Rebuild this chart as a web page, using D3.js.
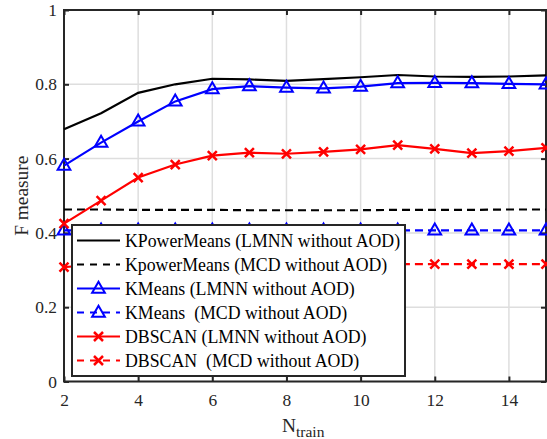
<!DOCTYPE html>
<html><head><meta charset="utf-8">
<script src="https://cdn.jsdelivr.net/npm/d3@7"></script>
<style>body{margin:0;background:#fff}svg{display:block}</style>
</head><body><svg id="c" width="547" height="439"></svg>
<script>
const nTrain = [2,3,4,5,6,7,8,9,10,11,12,13,14,15];
const kpmLMNN = [0.679,0.722,0.777,0.800,0.815,0.813,0.809,0.814,0.819,0.825,0.821,0.820,0.821,0.824];
const kpmMCD  = [0.463,0.463,0.462,0.462,0.462,0.461,0.461,0.461,0.461,0.462,0.462,0.462,0.463,0.463];
const kmLMNN  = [0.581,0.643,0.700,0.754,0.787,0.795,0.791,0.789,0.794,0.803,0.804,0.803,0.801,0.800];
const kmMCD   = [0.407,0.407,0.407,0.407,0.407,0.407,0.407,0.407,0.407,0.407,0.407,0.407,0.407,0.407];
const dbLMNN  = [0.425,0.487,0.549,0.584,0.608,0.616,0.613,0.618,0.625,0.636,0.626,0.615,0.620,0.629];
const dbMCD   = [0.308,0.315,0.315,0.315,0.315,0.315,0.315,0.315,0.315,0.316,0.316,0.316,0.316,0.316];
const xTicks = [2,4,6,8,10,12,14];
const yTicks = [0,0.2,0.4,0.6,0.8,1];
const legendLabels = ["KPowerMeans (LMNN without AOD)","KpowerMeans (MCD without AOD)","KMeans (LMNN without AOD)","KMeans  (MCD without AOD)","DBSCAN (LMNN without AOD)","DBSCAN  (MCD without AOD)"];

const series = [
  {v:kpmLMNN, c:"#000", dash:null, m:null},
  {v:kpmMCD,  c:"#000", dash:"8,5", m:null},
  {v:kmLMNN,  c:"#0000ff", dash:null, m:"tri"},
  {v:kmMCD,   c:"#0000ff", dash:"8,5", m:"tri"},
  {v:dbLMNN,  c:"#ff0000", dash:null, m:"x"},
  {v:dbMCD,   c:"#ff0000", dash:"8,5", m:"x"}
];

const FONT = "Liberation Serif";
const svg = d3.select("#c");
const L=64, R=546, T=10, B=381.5;
const x = d3.scaleLinear().domain([2,15]).range([L,R]);
const y = d3.scaleLinear().domain([0,1]).range([B,T]);
const axC = "#262626";

// grid
const g = svg.append("g");
g.selectAll(".gx").data(xTicks).join("line").attr("x1",d=>x(d)).attr("x2",d=>x(d)).attr("y1",T).attr("y2",B).attr("stroke","#dedede").attr("stroke-width",1.5);
g.selectAll(".gy").data(yTicks).join("line").attr("y1",d=>y(d)).attr("y2",d=>y(d)).attr("x1",L).attr("x2",R).attr("stroke","#dedede").attr("stroke-width",1.5);

// axes with inward ticks
const ax = svg.append("g").attr("color",axC);
function styleAxis(sel){ sel.attr("font-family",FONT).attr("font-size",17.4); sel.selectAll(".domain").remove(); sel.selectAll("line").attr("stroke-width",2); sel.selectAll("text").attr("fill",axC).style("font-family",FONT); }
ax.append("g").attr("transform",`translate(0,${B})`).call(d3.axisBottom(x).tickValues(xTicks).tickSize(-5).tickPadding(12).tickFormat(d3.format("d"))).call(styleAxis);
ax.append("g").attr("transform",`translate(0,${T})`).call(d3.axisTop(x).tickValues(xTicks).tickSize(-5).tickFormat("")).call(styleAxis);
ax.append("g").attr("transform",`translate(0,0)`).call(d3.axisLeft(y).tickValues(yTicks).tickSize(0).tickPadding(0).tickFormat(d=>d===0||d===1?d3.format("d")(d):d3.format(".1f")(d))).call(styleAxis).selectAll("text").attr("x",L-7);
ax.append("g").attr("transform",`translate(${L},0)`).call(d3.axisRight(y).tickValues(yTicks).tickSize(5).tickFormat("")).call(styleAxis);
ax.append("g").attr("transform",`translate(${R},0)`).call(d3.axisLeft(y).tickValues(yTicks).tickSize(5).tickFormat("")).call(styleAxis);
svg.append("rect").attr("x",L).attr("y",T).attr("width",R-L).attr("height",B-T).attr("fill","none").attr("stroke",axC).attr("stroke-width",2);

// lines
const line = d3.line().x((d,i)=>x(nTrain[i])).y(d=>y(d));
const tri = d3.symbol().type(d3.symbolTriangle).size(70);
function drawMarker(sel, m, c){
  if(m==="tri") sel.append("path").attr("d",tri()).attr("fill","none").attr("stroke",c).attr("stroke-width",2).attr("transform","translate(0,0.5)");
  else if(m==="x") sel.append("path").attr("d","M-4.5,-4.5L4.5,4.5M-4.5,4.5L4.5,-4.5").attr("stroke",c).attr("stroke-width",2.5).attr("fill","none");
}
const plot = svg.append("g");
series.forEach(s=>{
  plot.append("path").datum(s.v).attr("d",line).attr("fill","none").attr("stroke",s.c).attr("stroke-width",2.2).attr("stroke-dasharray",s.dash);
  if(s.m){
    s.v.forEach((v,i)=>{ const gm=plot.append("g").attr("transform",`translate(${x(nTrain[i])},${y(v)})`); drawMarker(gm,s.m,s.c); });
  }
});

// legend
const lg = svg.append("g");
lg.append("rect").attr("x",72).attr("y",225).attr("width",333).attr("height",151).attr("fill","#fff").attr("stroke",axC).attr("stroke-width",2);
legendLabels.forEach((t,i)=>{
  const yy = 240.5 + i*24;
  const s = series[i];
  lg.append("line").attr("x1",77).attr("x2",120).attr("y1",yy).attr("y2",yy).attr("stroke",s.c).attr("stroke-width",2.2).attr("stroke-dasharray",s.dash?"7,6":null);
  if(s.m){ const gm=lg.append("g").attr("transform",`translate(98.5,${yy})`); drawMarker(gm,s.m,s.c); }
  lg.append("text").attr("x",125).attr("y",yy+6).attr("font-size",17.8).attr("fill","#000").style("font-family",FONT).style("white-space","pre").text(t);
});

// labels
svg.append("text").attr("transform",`translate(28,${(T+B)/2}) rotate(-90)`).attr("text-anchor","middle").attr("font-size",19.4).attr("fill",axC).style("font-family",FONT).text("F measure");
const xl = svg.append("text").attr("x",282).attr("y",432).attr("font-size",19.4).attr("fill",axC).style("font-family",FONT);
xl.append("tspan").text("N");
xl.append("tspan").attr("dy",5).attr("font-size",15.5).text("train");
</script></body></html>
